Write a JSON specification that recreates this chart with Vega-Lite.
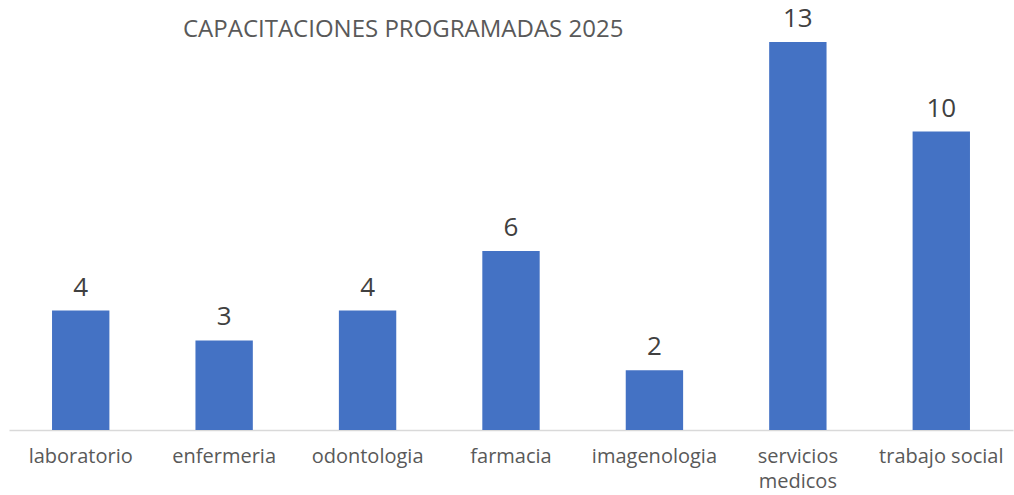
{
  "$schema": "https://vega.github.io/schema/vega-lite/v6.json",
  "width": 1004,
  "height": 388,
  "autosize": {"type": "none"},
  "padding": {"left": 9, "top": 42, "right": 1, "bottom": 65},
  "background": "white",
  "title": {
    "text": "CAPACITACIONES PROGRAMADAS 2025",
    "anchor": "start",
    "frame": "group",
    "dx": 174,
    "offset": 3,
    "dy": 39,
    "font": "Open Sans",
    "fontSize": 24,
    "fontWeight": "normal",
    "color": "#595959"
  },
  "data": {
    "values": [
      {"area": "laboratorio", "cantidad": 4},
      {"area": "enfermeria", "cantidad": 3},
      {"area": "odontologia", "cantidad": 4},
      {"area": "farmacia", "cantidad": 6},
      {"area": "imagenologia", "cantidad": 2},
      {"area": "servicios medicos", "cantidad": 13},
      {"area": "trabajo social", "cantidad": 10}
    ]
  },
  "config": {
    "view": {"stroke": null},
    "font": "Open Sans"
  },
  "encoding": {
    "x": {
      "field": "area",
      "type": "nominal",
      "sort": null,
      "scale": {"paddingInner": 0.6, "paddingOuter": 0.3},
      "axis": {
        "title": null,
        "labelAngle": 0,
        "ticks": false,
        "domainColor": "#d9d9d9",
        "domainWidth": 1.5,
        "labelFont": "Open Sans",
        "labelFontSize": 20,
        "labelColor": "#595959",
        "labelPadding": 16,
        "labelLineHeight": 25,
        "labelExpr": "datum.value == 'servicios medicos' ? ['servicios', 'medicos'] : datum.value"
      }
    },
    "y": {
      "field": "cantidad",
      "type": "quantitative",
      "scale": {"domain": [0, 13], "nice": false},
      "axis": null
    }
  },
  "layer": [
    {"mark": {"type": "bar", "color": "#4472C4"}},
    {
      "mark": {
        "type": "text",
        "baseline": "bottom",
        "dy": -10,
        "font": "Open Sans",
        "fontSize": 26,
        "color": "#404040",
        "clip": false
      },
      "encoding": {"text": {"field": "cantidad", "type": "quantitative"}}
    }
  ]
}
